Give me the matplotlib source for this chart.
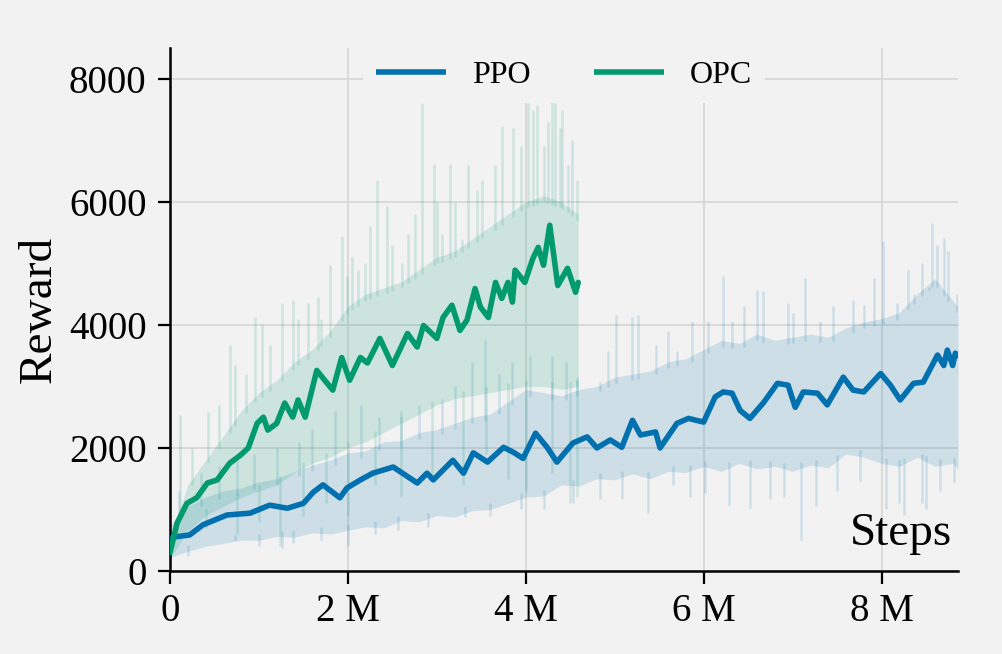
import numpy as np
import matplotlib
matplotlib.use("Agg")
import matplotlib.pyplot as plt

# ---------------- data (steps in millions, reward in thousands) ----------------
# smoothed curves
ppo_x = [0.00, 0.03, 0.22, 0.37, 0.64, 0.90, 1.12, 1.32, 1.50, 1.61, 1.72, 1.91, 1.99,
         2.14, 2.28, 2.51, 2.78, 2.89, 2.96, 3.18, 3.30, 3.41, 3.57, 3.75, 3.86, 3.97,
         4.11, 4.24, 4.35, 4.53, 4.69, 4.80, 4.95, 5.08, 5.20, 5.29, 5.46, 5.51, 5.70,
         5.83, 6.00, 6.13, 6.22, 6.32, 6.41, 6.52, 6.67, 6.83, 6.95, 7.03, 7.12, 7.28,
         7.39, 7.57, 7.68, 7.80, 7.99, 8.10, 8.21, 8.36, 8.47, 8.63, 8.70, 8.74, 8.80,
         8.83, 8.86]
ppo_y = [0.35, 0.55, 0.585, 0.75, 0.91, 0.94, 1.07, 1.02, 1.10, 1.28, 1.40, 1.19, 1.35,
         1.48, 1.59, 1.69, 1.43, 1.59, 1.48, 1.80, 1.59, 1.92, 1.77, 2.01, 1.93, 1.83,
         2.24, 2.01, 1.77, 2.08, 2.18, 2.00, 2.13, 2.01, 2.45, 2.21, 2.26, 2.00, 2.40,
         2.48, 2.42, 2.83, 2.91, 2.89, 2.61, 2.48, 2.73, 3.05, 3.02, 2.66, 2.91, 2.89,
         2.70, 3.15, 2.94, 2.91, 3.21, 3.02, 2.78, 3.05, 3.07, 3.51, 3.34, 3.59, 3.34,
         3.54, 3.50]

opc_x = [0.00, 0.08, 0.19, 0.30, 0.42, 0.53, 0.67, 0.79, 0.88, 0.98, 1.05, 1.10, 1.20,
         1.29, 1.38, 1.44, 1.52, 1.65, 1.83, 1.93, 2.02, 2.14, 2.22, 2.36, 2.50, 2.67,
         2.78, 2.85, 3.00, 3.07, 3.17, 3.26, 3.34, 3.43, 3.49, 3.58, 3.66, 3.73, 3.80,
         3.85, 3.88, 3.99, 4.08, 4.14, 4.20, 4.27, 4.36, 4.47, 4.56, 4.59]
opc_y = [0.30, 0.78, 1.10, 1.19, 1.43, 1.48, 1.75, 1.88, 2.00, 2.40, 2.50, 2.29, 2.40,
         2.73, 2.50, 2.78, 2.50, 3.26, 2.94, 3.47, 3.10, 3.47, 3.38, 3.78, 3.34, 3.86,
         3.64, 3.99, 3.78, 4.12, 4.32, 3.91, 4.08, 4.59, 4.29, 4.12, 4.69, 4.43, 4.69,
         4.37, 4.89, 4.69, 5.08, 5.26, 4.97, 5.62, 4.64, 4.92, 4.53, 4.69]

# dense part of the raw-reward band
ppo_band_x = [0.0, 0.2, 0.4, 0.6, 0.8, 1.0, 1.2, 1.4, 1.6, 1.8, 2.0, 2.2, 2.4, 2.6,
              2.8, 3.0, 3.2, 3.4, 3.6, 3.8, 4.0, 4.2, 4.4, 4.6, 4.8, 5.0, 5.2, 5.4,
              5.6, 5.8, 6.0, 6.2, 6.4, 6.6, 6.8, 7.0, 7.2, 7.4, 7.6, 7.8, 8.0, 8.2,
              8.4, 8.6, 8.8, 8.86]
ppo_band_lo = [0.22, 0.32, 0.40, 0.45, 0.50, 0.50, 0.56, 0.55, 0.62, 0.60, 0.66, 0.72,
               0.70, 0.82, 0.80, 0.90, 0.88, 0.98, 1.00, 1.10, 1.20, 1.22, 1.40, 1.38,
               1.50, 1.48, 1.58, 1.50, 1.62, 1.60, 1.70, 1.62, 1.75, 1.66, 1.70, 1.62,
               1.72, 1.68, 1.90, 1.85, 1.75, 1.70, 1.85, 1.70, 1.75, 1.65]
ppo_band_hi = [0.75, 1.05, 1.20, 1.30, 1.35, 1.45, 1.50, 1.62, 1.72, 1.80, 1.92, 1.95,
               2.10, 2.12, 2.25, 2.30, 2.40, 2.50, 2.55, 2.75, 2.95, 2.90, 2.85, 2.95,
               3.00, 3.15, 3.20, 3.25, 3.40, 3.45, 3.60, 3.75, 3.70, 3.85, 3.75, 3.80,
               3.85, 3.80, 3.95, 4.05, 4.10, 4.20, 4.50, 4.75, 4.40, 4.30]
opc_band_x = [0.0, 0.2, 0.4, 0.6, 0.8, 1.0, 1.2, 1.4, 1.6, 1.8, 2.0, 2.2, 2.4, 2.6,
              2.8, 3.0, 3.2, 3.4, 3.6, 3.8, 4.0, 4.2, 4.4, 4.59]
opc_band_lo = [0.20, 0.65, 0.90, 1.05, 1.20, 1.30, 1.40, 1.60, 1.75, 1.85, 2.00, 2.10,
               2.25, 2.40, 2.55, 2.70, 2.80, 2.85, 2.90, 2.95, 3.00, 3.00, 2.95, 3.00]
opc_band_hi = [0.50, 1.40, 1.80, 2.20, 2.60, 2.90, 3.10, 3.40, 3.60, 3.90, 4.30, 4.50,
               4.60, 4.70, 4.90, 5.10, 5.20, 5.40, 5.60, 5.80, 6.00, 6.10, 6.00, 5.80]

# raw-reward spikes beyond the dense band
ppo_up_x = [0.10, 0.35, 0.55, 0.75, 0.95, 1.20, 1.45, 1.60, 1.85, 2.15, 2.35, 2.60,
            2.80, 3.06, 3.20, 3.40, 3.54, 3.70, 3.85, 4.05, 4.30, 4.45, 4.58, 4.84,
            4.93, 5.01, 5.20, 5.26, 5.46, 5.60, 5.70, 5.87, 6.05, 6.22, 6.32, 6.45,
            6.60, 6.67, 6.95, 7.00, 7.14, 7.31, 7.45, 7.68, 7.80, 7.91, 8.02, 8.17,
            8.30, 8.36, 8.45, 8.53, 8.57, 8.62, 8.70, 8.75, 8.85]
ppo_up_y = [1.30, 1.60, 1.70, 1.80, 1.90, 2.00, 2.10, 2.30, 2.60, 2.70, 2.50, 2.60,
            2.70, 2.80, 3.00, 3.40, 3.75, 3.20, 3.40, 3.50, 3.50, 3.40, 3.15, 3.07,
            3.57, 4.16, 4.12, 4.16, 3.67, 3.90, 3.57, 4.07, 4.07, 4.80, 4.07, 4.30,
            4.56, 4.55, 4.35, 4.20, 4.76, 4.07, 4.30, 4.40, 4.32, 4.77, 5.37, 4.36,
            4.90, 4.51, 5.00, 4.62, 5.65, 5.30, 5.41, 5.20, 4.50]
ppo_dn_x = [0.20, 0.73, 1.00, 1.26, 1.38, 1.70, 2.00, 2.30, 2.56, 2.90, 3.32, 3.60,
            3.95, 4.20, 4.53, 4.84, 5.08, 5.37, 5.66, 5.85, 6.02, 6.28, 6.52, 6.75,
            6.90, 7.09, 7.26, 7.50, 7.76, 8.05, 8.20, 8.25, 8.46, 8.50, 8.66, 8.81]
ppo_dn_y = [0.25, 0.50, 0.40, 0.37, 0.45, 0.50, 0.40, 0.60, 0.66, 0.72, 0.87, 0.90,
            1.00, 1.00, 1.10, 1.17, 1.17, 0.94, 1.40, 1.20, 1.27, 1.07, 1.02, 1.17,
            1.20, 0.50, 1.05, 1.30, 1.46, 1.00, 1.10, 0.91, 1.10, 1.00, 1.30, 1.45]
opc_up_x = [0.11, 0.25, 0.43, 0.55, 0.67, 0.73, 0.85, 0.96, 1.03, 1.12, 1.26, 1.38,
            1.44, 1.55, 1.66, 1.70, 1.80, 1.93, 1.99, 2.05, 2.11, 2.19, 2.25, 2.33,
            2.44, 2.50, 2.61, 2.68, 2.75, 2.83, 2.97, 3.00, 3.06, 3.15, 3.20, 3.28,
            3.35, 3.45, 3.51, 3.65, 3.73, 3.86, 3.95, 4.02, 4.08, 4.13, 4.20, 4.25,
            4.30, 4.33, 4.38, 4.41, 4.48, 4.52, 4.58]
opc_up_y = [2.53, 2.00, 2.58, 2.70, 3.67, 3.35, 3.20, 4.12, 4.02, 3.67, 4.35, 4.40,
            4.10, 4.35, 4.45, 4.10, 4.97, 5.45, 4.80, 5.10, 4.90, 5.00, 5.60, 6.35,
            5.94, 5.30, 5.00, 5.47, 5.80, 7.61, 6.62, 6.00, 5.47, 6.62, 6.00, 5.40,
            6.60, 6.20, 6.35, 6.60, 7.24, 7.20, 6.90, 7.61, 7.50, 7.57, 6.90, 7.30,
            8.08, 7.60, 7.20, 7.50, 6.60, 7.00, 6.35]
opc_dn_x = [0.40, 0.75, 1.00, 1.24, 1.50, 1.75, 2.00, 2.30, 2.60, 2.95, 3.30, 3.55,
            3.80, 4.00, 4.30, 4.50, 4.58]
opc_dn_y = [0.70, 0.60, 0.80, 0.40, 0.90, 1.10, 0.90, 1.40, 1.20, 1.50, 1.40, 1.90,
            1.50, 1.30, 1.60, 1.10, 1.20]

series_names = ["PPO", "OPC"]
x_tick_vals = [0, 2, 4, 6, 8]
x_tick_labels = ["0", "2 M", "4 M", "6 M", "8 M"]
y_tick_vals = [0, 2000, 4000, 6000, 8000]

# ---------------- style ----------------
BG = "#f2f2f2"
C_PPO = "#0070ae"
C_OPC = "#009a6e"
plt.rcParams["font.family"] = ["Liberation Serif", "DejaVu Serif"]

fig = plt.figure(figsize=(10.02, 6.54), dpi=100, facecolor=BG)
ax = fig.add_axes([170 / 1002, 83 / 654, 788 / 1002, 523 / 654], facecolor=BG)

k = 1000.0


def draw_band(bx, blo, bhi, ux, uy, dx, dy, color):
    bx = np.asarray(bx)
    lo = np.asarray(blo) * k
    hi = np.asarray(bhi) * k
    ax.fill_between(bx, lo, hi, color=color, alpha=0.15, lw=0, zorder=2)
    ux = np.asarray(ux)
    ax.vlines(ux, np.interp(ux, bx, hi) - 100, np.asarray(uy) * k,
              color=color, alpha=0.15, lw=1.8, zorder=2)
    dx = np.asarray(dx)
    ax.vlines(dx, np.asarray(dy) * k, np.interp(dx, bx, lo) + 100,
              color=color, alpha=0.15, lw=1.8, zorder=2)


draw_band(ppo_band_x, ppo_band_lo, ppo_band_hi, ppo_up_x, ppo_up_y,
          ppo_dn_x, ppo_dn_y, C_PPO)
draw_band(opc_band_x, opc_band_lo, opc_band_hi, opc_up_x, opc_up_y,
          opc_dn_x, opc_dn_y, C_OPC)

ax.plot(ppo_x, np.array(ppo_y) * k, color=C_PPO, lw=4.0, label=series_names[0],
        zorder=4, solid_joinstyle="round", solid_capstyle="round")
ax.plot(opc_x, np.array(opc_y) * k, color=C_OPC, lw=4.0, label=series_names[1],
        zorder=4, solid_joinstyle="round", solid_capstyle="round")

ax.set_xlim(0, 8.86)
ax.set_ylim(0, 8500)
ax.set_xticks(x_tick_vals)
ax.set_xticklabels(x_tick_labels)
ax.set_yticks(y_tick_vals)

ax.grid(True, color="#d6d6d6", lw=1.2, zorder=0)
ax.set_axisbelow(True)
for s in ["top", "right"]:
    ax.spines[s].set_visible(False)
for s in ["left", "bottom"]:
    ax.spines[s].set_linewidth(1.8)
    ax.spines[s].set_color("black")
ax.tick_params(axis="both", labelsize=28, length=9, width=1.6, direction="out")
ax.tick_params(axis="y", pad=8)
ax.tick_params(axis="x", pad=7)

ax.set_ylabel("Reward", fontsize=34, labelpad=6)
ax.text(0.992, 0.03, "Steps", transform=ax.transAxes, ha="right", va="bottom",
        fontsize=34)

leg = ax.legend(loc="upper center", ncol=2, fontsize=23, frameon=True,
                facecolor=BG, edgecolor="none", framealpha=1.0,
                handlelength=2.2, columnspacing=2.0, borderaxespad=0.0,
                bbox_to_anchor=(0.5, 1.0))
for line in leg.get_lines():
    line.set_linewidth(4.0)
    line.set_solid_capstyle("butt")

fig.savefig("out.png", dpi=100, facecolor=BG)
